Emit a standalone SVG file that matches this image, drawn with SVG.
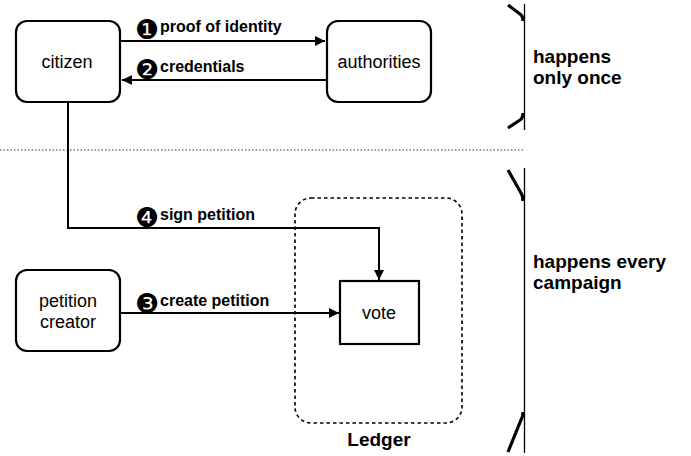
<svg xmlns="http://www.w3.org/2000/svg" width="691" height="456" viewBox="0 0 691 456">
<defs>
<style>
.box{fill:#fff;stroke:#000;stroke-width:2.2}
.node{font-family:"Liberation Sans",Arial,sans-serif;font-size:18px;fill:#000;text-anchor:middle}
.lbl{font-family:"Liberation Sans",Arial,sans-serif;font-size:16px;font-weight:bold;fill:#000}
.num{font-family:"DejaVu Sans",sans-serif;font-size:27px;fill:#000}
.side{font-family:"Liberation Sans",Arial,sans-serif;font-size:19px;font-weight:bold;fill:#000}
.conn{fill:none;stroke:#000;stroke-width:2}
.brace{fill:none;stroke:#000;stroke-width:1.3}
.flare{fill:none;stroke:#000;stroke-width:3.2;stroke-linecap:butt}
</style>
<marker id="arr" viewBox="0 0 10 10" refX="10" refY="5" markerWidth="5" markerHeight="5" orient="auto" markerUnits="strokeWidth">
<path d="M0,0 L10,5 L0,10 Z" fill="#000"/>
</marker>
</defs>
<rect width="691" height="456" fill="#fff"/>

<g id="separator">
<line x1="0" y1="150" x2="525" y2="150" stroke="#333" stroke-width="1.2" stroke-dasharray="1.5,2"/>
</g>

<g id="ledger">
<rect x="295" y="198" width="167" height="225" rx="16" fill="none" stroke="#000" stroke-width="1.6" stroke-dasharray="3.5,3"/>
<text x="379" y="446" class="side" text-anchor="middle">Ledger</text>
</g>

<g id="connectors">
<line class="conn" x1="121" y1="41" x2="325" y2="41" marker-end="url(#arr)"/>
<line class="conn" x1="326" y1="80" x2="122" y2="80" marker-end="url(#arr)"/>
<polyline class="conn" points="68,103 68,228 379,228 379,280" marker-end="url(#arr)"/>
<line class="conn" x1="121" y1="313" x2="339" y2="313" marker-end="url(#arr)"/>
<text x="135" y="38.5" class="num">❶</text><text x="160" y="32" class="lbl">proof of identity</text>
<text x="135" y="78.5" class="num">❷</text><text x="160" y="72" class="lbl">credentials</text>
<text x="135" y="226.5" class="num">❹</text><text x="160" y="220" class="lbl">sign petition</text>
<text x="135" y="312.5" class="num">❸</text><text x="160" y="306" class="lbl">create petition</text>
</g>

<g id="citizen">
<rect class="box" x="16" y="21" width="104" height="81" rx="11"/>
<text x="67" y="68" class="node">citizen</text>
</g>

<g id="authorities">
<rect class="box" x="327" y="21" width="104" height="81" rx="11"/>
<text x="379" y="68" class="node">authorities</text>
</g>

<g id="petition-creator">
<rect class="box" x="16" y="270" width="104" height="81" rx="11"/>
<text x="68" y="307" class="node">petition</text>
<text x="68" y="328" class="node">creator</text>
</g>

<g id="vote">
<rect class="box" x="340" y="281" width="79" height="63"/>
<text x="379" y="319" class="node">vote</text>
</g>

<g id="brace-once">
<line class="brace" x1="524.5" y1="4" x2="524.5" y2="130"/>
<path class="flare" d="M508,5 L520,14 Q523,16 523,21"/>
<path class="flare" d="M523,113 Q523,118 520,120 L508,128"/>
<text x="533" y="63" class="side">happens</text>
<text x="533" y="84" class="side">only once</text>
</g>

<g id="brace-every">
<line class="brace" x1="524.5" y1="168" x2="524.5" y2="453"/>
<path class="flare" d="M508,170 L521,193 Q523,196 523,201"/>
<path class="flare" d="M523,412 Q523,417 521,420 L508,452"/>
<text x="533" y="268" class="side">happens every</text>
<text x="533" y="289" class="side">campaign</text>
</g>
</svg>
